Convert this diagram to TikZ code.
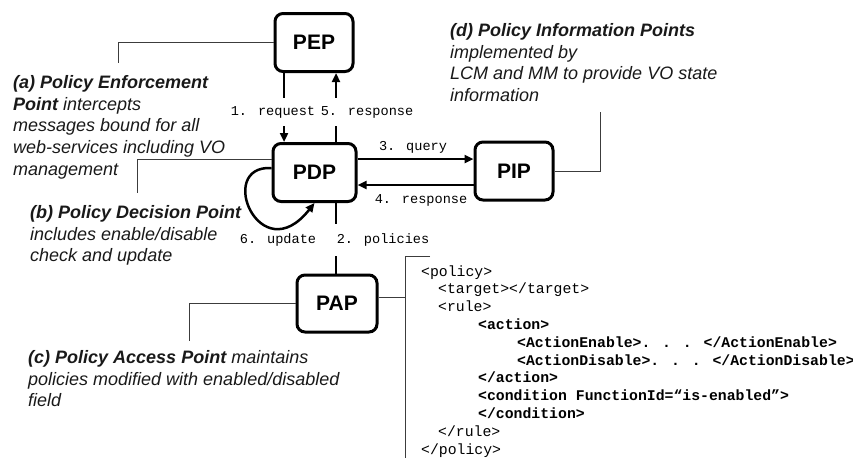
\documentclass[tikz,border=0pt]{standalone}
\usepackage{fontspec}
\setmainfont{Liberation Sans}
\newfontfamily\codefont{Liberation Mono}
\definecolor{trait}{RGB}{60,60,60}
\definecolor{texte}{RGB}{25,25,25}
\usepackage{tikz}
\usetikzlibrary{arrows.meta,positioning}

\begin{document}
\begin{tikzpicture}[x=1pt,y=-1pt,
  bloc/.style={draw,line width=3pt,rounded corners=8pt,minimum width=78pt,minimum height=58pt,
    inner sep=0pt,font=\fontsize{21}{21}\selectfont\bfseries},
  lien/.style={line width=2.8pt},
  flux/.style={lien,-{Triangle[length=9pt,width=8pt]}},
  rappel/.style={trait,line width=1pt},
  etiq/.style={font=\codefont\fontsize{13.6}{16}\selectfont,inner sep=0pt},
  legende/.style={texte,anchor=base west,align=left,inner sep=0pt,
    font=\fontsize{18}{21.7}\selectfont\itshape}]
  \useasboundingbox (0,0) rectangle (853,458);

  %% les quatre points
  \node[bloc] (pep) at (314,42.5) {PEP};
  \node[bloc,minimum width=83pt] (pdp) at (314.5,172.5) {PDP};
  \node[bloc] (pip) at (514,171) {PIP};
  \node[bloc,minimum width=80pt,minimum height=57pt] (pap) at (337,303.5) {PAP};

  %% etiquettes des messages
  \node[etiq,minimum height=28pt] (req) at (273,112) {1. request};
  \node[etiq,minimum height=28pt] (rsp) at (367,112) {5. response};
  \node[etiq] (qry) at (413,147) {3. query};
  \node[etiq] (ans) at (421,200) {4. response};
  \node[etiq] (upd) at (278,240) {6. update};
  \node[etiq,minimum height=32pt] (pol) at (383,240) {2. policies};

  \coordinate (gauche) at (284,0);
  \coordinate (droite) at (336,0);
  \coordinate (haut) at (0,159);
  \coordinate (bas) at (0,185);

  %% PEP <-> PDP
  \draw[lien] (pep.south -| gauche) -- (req.north -| gauche);
  \draw[flux] (req.south -| gauche) -- (pdp.north -| gauche);
  \draw[lien] (pdp.north -| droite) -- (rsp.south -| droite);
  \draw[flux] (rsp.north -| droite) -- (pep.south -| droite);

  %% PDP <-> PIP
  \draw[flux] (pdp.east |- haut) -- (pip.west |- haut);
  \draw[flux] (pip.west |- bas) -- (pdp.east |- bas);

  %% PDP -- PAP
  \draw[lien] (pdp.south -| droite) -- (pol.north -| droite);
  \draw[lien] (pol.south -| droite) -- (pap.north -| droite);

  %% mise a jour
  \draw[flux,line width=2.5pt] ([yshift=4.5pt]pdp.west) .. controls (215,165) and (260,272) .. (pdp.south);

  %% renvois vers les legendes
  \coordinate (ca) at (118,63);
  \coordinate (cb) at (137,193);
  \coordinate (cc) at (189,341);
  \coordinate (cd) at (600,112);
  \draw[rappel] (pep.west) -| (ca);
  \draw[rappel] ([yshift=13.5pt]pdp.west) -| (cb);
  \draw[rappel] (pap.west) -| (cc);
  \draw[rappel] (pip.east) -| (cd);

  %% accolade du code
  \coordinate (papd) at ([yshift=6pt]pap.east);
  \coordinate (acc) at (405,256);
  \coordinate (accbas) at (405,458);
  \draw[rappel] (papd) -- (papd -| acc);
  \draw[rappel] ([xshift=25pt]acc) -- (acc) -- (accbas);

  %% legendes (ancre sur la derniere ligne)
  \node[legende] (la) at (13,175.3) {\textbf{(a) Policy Enforcement}\\\textbf{Point} intercepts\\messages bound for all\\web-services including VO\\management};
  \node[legende] (lb) at (30,261.9) {\textbf{(b) Policy Decision Point}\\includes enable/disable\\check and update};
  \node[legende] (lc) at (28,406.9) {\textbf{(c) Policy Access Point} maintains\\policies modified with enabled/disabled\\field};
  \node[legende] (ld) at (450,101.6) {\textbf{(d) Policy Information Points}\\implemented by\\LCM and MM to provide VO state\\information};

  %% politique
  \node[anchor=base west,align=left,inner sep=0pt,font=\codefont\fontsize{14.8}{17.8}\selectfont] (code) at (421,454) {%
    <policy>\\
    \hspace*{17pt}<target></target>\\
    \hspace*{17pt}<rule>\\
    \hspace*{57pt}\textbf{<action>}\\
    \hspace*{96pt}\textbf{<ActionEnable>. . . </ActionEnable>}\\
    \hspace*{96pt}\textbf{<ActionDisable>. . . </ActionDisable>}\\
    \hspace*{57pt}\textbf{</action>}\\
    \hspace*{57pt}\textbf{<condition FunctionId=“is-enabled”>}\\
    \hspace*{57pt}\textbf{</condition>}\\
    \hspace*{17pt}</rule>\\
    </policy>};
\end{tikzpicture}
\end{document}
